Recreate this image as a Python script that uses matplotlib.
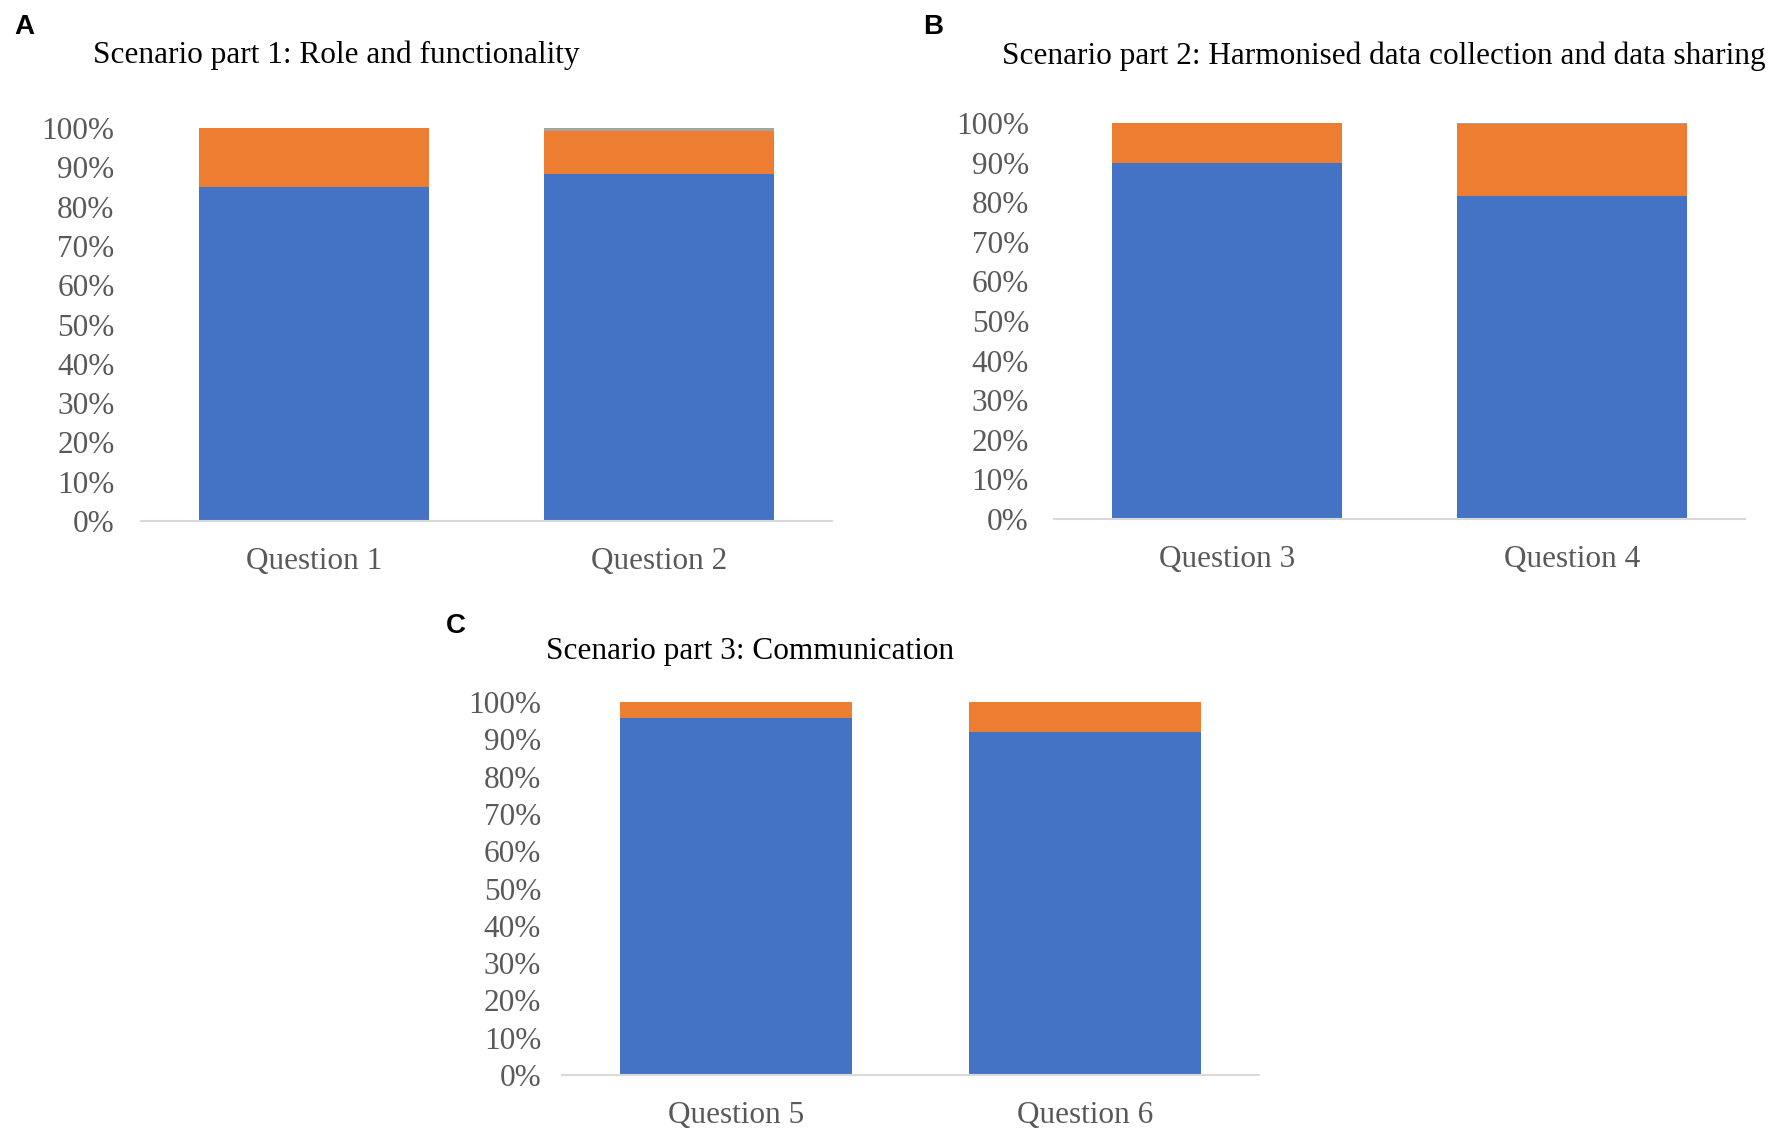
import matplotlib.pyplot as plt
from matplotlib.ticker import PercentFormatter

# share of answers per question (blue / orange / grey)
questions_a = ['Question 1', 'Question 2']
blue_a = [0.850, 0.883]
orange_a = [0.150, 0.110]
grey_a = [0.000, 0.007]

questions_b = ['Question 3', 'Question 4']
blue_b = [0.899, 0.816]
orange_b = [0.101, 0.181]
grey_b = [0.000, 0.003]

questions_c = ['Question 5', 'Question 6']
blue_c = [0.956, 0.920]
orange_c = [0.044, 0.080]
grey_c = [0.000, 0.000]

titles = ['Scenario part 1: Role and functionality',
          'Scenario part 2: Harmonised data collection and data sharing',
          'Scenario part 3: Communication']

BLUE = '#4472C4'
ORANGE = '#ED7D31'
GREY = '#A5A5A5'
TEXT_GREY = '#595959'

plt.rcParams['font.family'] = ['Liberation Serif', 'DejaVu Serif']

W, H = 1772, 1136
fig = plt.figure(figsize=(W / 100, H / 100), dpi=100)


def px_axes(x0, x1, ybot, ytop):
    return fig.add_axes([x0 / W, 1 - ybot / H, (x1 - x0) / W, (ybot - ytop) / H])


def stacked(ax, cats, blue, orange, grey, ypad):
    x = list(range(len(cats)))
    ax.bar(x, blue, width=0.665, color=BLUE)
    bottom2 = [b + o for b, o in zip(blue, orange)]
    ax.bar(x, orange, width=0.665, bottom=blue, color=ORANGE)
    ax.bar(x, grey, width=0.665, bottom=bottom2, color=GREY)
    ax.set_xlim(-0.5, len(cats) - 0.5)
    ax.set_ylim(0, 1)
    ax.set_yticks([i / 10 for i in range(11)])
    ax.yaxis.set_major_formatter(PercentFormatter(1.0, decimals=0))
    ax.set_xticks(x)
    ax.set_xticklabels(cats)
    for s in ['top', 'right', 'left']:
        ax.spines[s].set_visible(False)
    ax.spines['bottom'].set_color('#D9D9D9')
    ax.spines['bottom'].set_linewidth(1.5)
    ax.tick_params(axis='both', length=0, labelsize=22.5, colors=TEXT_GREY)
    ax.tick_params(axis='x', pad=19)
    ax.tick_params(axis='y', pad=ypad)


ax_a = px_axes(141, 832, 521, 128)
stacked(ax_a, questions_a, blue_a, orange_a, grey_a, 19)
ax_b = px_axes(1054, 1745, 519, 123)
stacked(ax_b, questions_b, blue_b, orange_b, grey_b, 18)
ax_c = px_axes(562, 1259, 1075, 702)
stacked(ax_c, questions_c, blue_c, orange_c, grey_c, 15)

# titles and panel letters
for (tx, ty), t in zip([(93, 63), (1002, 64), (546, 659)], titles):
    fig.text(tx / W, 1 - ty / H, t, fontsize=22.5, color='black', va='baseline')
for (lx, ly), lab in zip([(14, 34), (923, 34), (446, 633)], 'ABC'):
    fig.text(lx / W, 1 - ly / H, lab, fontsize=20, fontweight='bold',
             family=['Liberation Sans', 'DejaVu Sans'], va='baseline')

fig.savefig('out.png', dpi=100)
